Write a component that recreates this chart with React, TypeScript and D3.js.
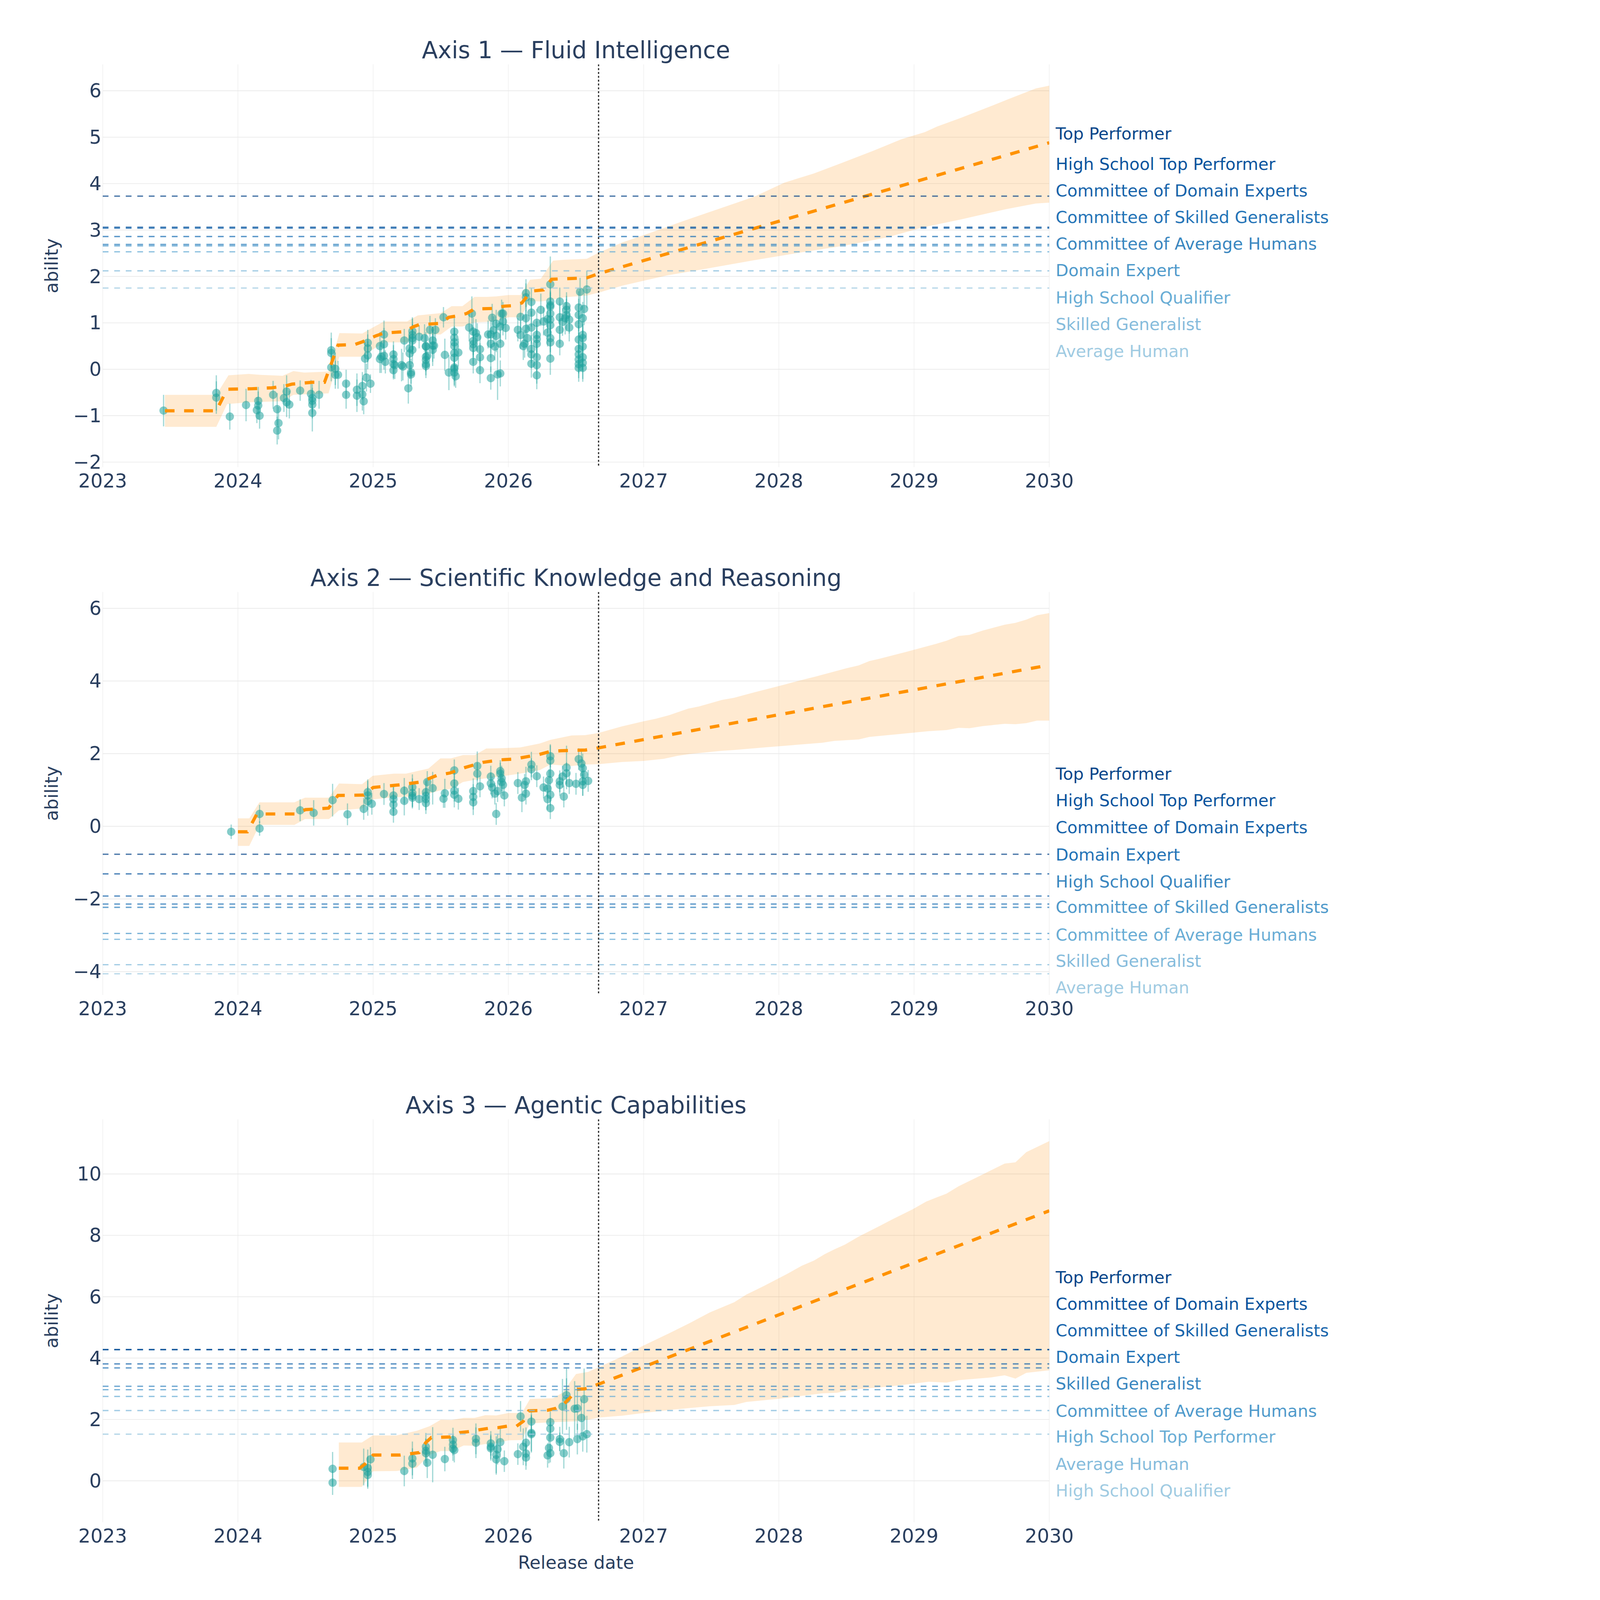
import React, { useEffect, useRef } from "react";
import * as d3 from "d3";

// ---- data ----
const panelTitles = [
    "Axis 1 — Fluid Intelligence",
    "Axis 2 — Scientific Knowledge and Reasoning",
    "Axis 3 — Agentic Capabilities",
];
const yDomains: [number, number][] = [[-2.11, 6.57], [-4.64, 6.45], [-1.35, 11.78]];
const yTicks = [
    [-2, -1, 0, 1, 2, 3, 4, 5, 6],
    [-4, -2, 0, 2, 4, 6],
    [0, 2, 4, 6, 8, 10],
];
const xTicks = [2023, 2024, 2025, 2026, 2027, 2028, 2029, 2030];
const cutoffYear = 2026.667;

const levelColors = ["#08468a", "#0a549e", "#1764ab", "#2474b7", "#3a87c0", "#4f9acb", "#69add5", "#86bcdc", "#a0cbe2"];

// horizontal human baselines (sorted high -> low) and their right-hand labels
const axis1Levels = [3.73, 3.06, 3.04, 2.86, 2.69, 2.66, 2.53, 2.12, 1.75];
const axis1Labels = ["Top Performer", "High School Top Performer", "Committee of Domain Experts", "Committee of Skilled Generalists", "Committee of Average Humans", "Domain Expert", "High School Qualifier", "Skilled Generalist", "Average Human"];
const axis1LabelPos = [5.08, 4.42, 3.85, 3.28, 2.70, 2.13, 1.54, 0.97, 0.39];

const axis2Levels = [-0.77, -1.31, -1.92, -2.14, -2.23, -2.95, -3.11, -3.81, -4.06];
const axis2Labels = ["Top Performer", "High School Top Performer", "Committee of Domain Experts", "Domain Expert", "High School Qualifier", "Committee of Skilled Generalists", "Committee of Average Humans", "Skilled Generalist", "Average Human"];
const axis2LabelPos = [1.44, 0.71, -0.03, -0.78, -1.52, -2.22, -2.98, -3.71, -4.44];

const axis3Levels = [4.28, 4.27, 3.81, 3.68, 3.08, 2.97, 2.75, 2.29, 1.52];
const axis3Labels = ["Top Performer", "Committee of Domain Experts", "Committee of Skilled Generalists", "Domain Expert", "Skilled Generalist", "Committee of Average Humans", "High School Top Performer", "Average Human", "High School Qualifier"];
const axis3LabelPos = [6.63, 5.76, 4.90, 4.04, 3.17, 2.28, 1.44, 0.55, -0.32];

// frontier median (history + projection)
const axis1Median = [[2023.46, -0.895], [2023.84, -0.895], [2023.92, -0.43], [2024.10, -0.42], [2024.25, -0.40], [2024.35, -0.36], [2024.40, -0.32], [2024.55, -0.28], [2024.64, -0.28], [2024.74, 0.52], [2024.86, 0.53], [2024.92, 0.59], [2025.02, 0.72], [2025.08, 0.78], [2025.23, 0.81], [2025.30, 0.92], [2025.34, 0.96], [2025.50, 0.99], [2025.56, 1.12], [2025.62, 1.15], [2025.69, 1.20], [2025.75, 1.30], [2025.89, 1.31], [2025.97, 1.36], [2026.03, 1.37], [2026.10, 1.43], [2026.14, 1.58], [2026.19, 1.69], [2026.26, 1.71], [2026.32, 1.94], [2026.51, 1.96], [2026.58, 1.97], [2026.667, 2.06], [2030, 4.88]];
const axis1Upper = [[2023.46, -0.55], [2023.84, -0.55], [2023.93, -0.13], [2024.08, -0.10], [2024.16, -0.12], [2024.33, -0.14], [2024.41, -0.04], [2024.49, -0.07], [2024.67, -0.05], [2024.75, 0.78], [2024.92, 0.77], [2025.01, 0.92], [2025.08, 1.03], [2025.25, 1.03], [2025.33, 1.16], [2025.50, 1.21], [2025.58, 1.36], [2025.66, 1.36], [2025.75, 1.56], [2025.84, 1.56], [2025.91, 1.57], [2026.0, 1.60], [2026.09, 1.60], [2026.16, 1.93], [2026.24, 1.95], [2026.33, 2.34], [2026.41, 2.36], [2026.58, 2.38], [2026.667, 2.51], [2026.84, 2.73], [2027.06, 2.95], [2027.27, 3.17], [2027.49, 3.39], [2027.60, 3.50], [2027.82, 3.72], [2028.04, 4.02], [2028.26, 4.22], [2028.48, 4.46], [2028.70, 4.71], [2028.91, 4.96], [2029.08, 5.11], [2029.17, 5.23], [2029.35, 5.42], [2029.57, 5.67], [2029.68, 5.80], [2029.90, 6.05], [2030, 6.11]];
const axis1Lower = [[2023.46, -1.24], [2023.84, -1.24], [2023.92, -0.75], [2024.08, -0.71], [2024.33, -0.69], [2024.41, -0.55], [2024.67, -0.52], [2024.75, 0.27], [2024.92, 0.27], [2025.01, 0.45], [2025.08, 0.58], [2025.25, 0.58], [2025.33, 0.75], [2025.50, 0.75], [2025.58, 0.92], [2025.66, 0.92], [2025.75, 1.01], [2025.84, 1.02], [2025.91, 1.04], [2026.0, 1.12], [2026.09, 1.12], [2026.16, 1.47], [2026.24, 1.46], [2026.33, 1.50], [2026.41, 1.55], [2026.58, 1.59], [2026.667, 1.65], [2026.84, 1.80], [2027.17, 2.02], [2027.49, 2.18], [2027.82, 2.35], [2028.15, 2.51], [2028.48, 2.66], [2028.80, 2.84], [2029.07, 3.06], [2029.35, 3.23], [2029.68, 3.45], [2029.90, 3.57], [2030, 3.59]];

const axis2Median = [[2024.0, -0.15], [2024.07, -0.15], [2024.14, 0.34], [2024.42, 0.34], [2024.50, 0.46], [2024.59, 0.48], [2024.67, 0.50], [2024.74, 0.85], [2024.93, 0.86], [2025.0, 1.07], [2025.19, 1.14], [2025.35, 1.22], [2025.47, 1.40], [2025.57, 1.47], [2025.68, 1.62], [2025.81, 1.76], [2025.94, 1.83], [2026.04, 1.85], [2026.23, 1.98], [2026.31, 2.06], [2026.39, 2.08], [2026.57, 2.10], [2026.667, 2.16], [2030, 4.44]];
const axis2Upper = [[2024.0, 0.22], [2024.084, 0.22], [2024.159, 0.66], [2024.418, 0.66], [2024.496, 0.79], [2024.673, 0.79], [2024.747, 1.18], [2024.918, 1.16], [2024.997, 1.39], [2025.154, 1.45], [2025.242, 1.45], [2025.409, 1.59], [2025.497, 1.87], [2025.575, 1.87], [2025.664, 1.96], [2025.752, 1.96], [2025.836, 2.14], [2025.938, 2.15], [2026.086, 2.17], [2026.233, 2.28], [2026.311, 2.38], [2026.468, 2.50], [2026.566, 2.51], [2026.668, 2.57], [2026.84, 2.75], [2027.0, 2.89], [2027.09, 2.96], [2027.19, 3.06], [2027.33, 3.24], [2027.41, 3.30], [2027.58, 3.48], [2027.67, 3.54], [2027.82, 3.69], [2028.04, 3.90], [2028.15, 4.01], [2028.28, 4.13], [2028.50, 4.35], [2028.59, 4.43], [2028.67, 4.55], [2028.74, 4.61], [2028.94, 4.80], [2029.16, 5.02], [2029.24, 5.11], [2029.33, 5.24], [2029.41, 5.27], [2029.51, 5.39], [2029.67, 5.55], [2029.75, 5.60], [2029.83, 5.69], [2029.91, 5.81], [2030, 5.87]];
const axis2Lower = [[2024.0, -0.54], [2024.084, -0.54], [2024.159, 0.04], [2024.418, 0.04], [2024.496, 0.20], [2024.673, 0.20], [2024.747, 0.44], [2024.918, 0.49], [2024.997, 0.74], [2025.154, 0.80], [2025.242, 0.81], [2025.409, 0.90], [2025.497, 0.99], [2025.575, 1.03], [2025.664, 1.22], [2025.752, 1.28], [2025.836, 1.32], [2025.938, 1.37], [2026.086, 1.45], [2026.233, 1.55], [2026.311, 1.70], [2026.468, 1.66], [2026.566, 1.70], [2026.668, 1.71], [2026.84, 1.77], [2027.0, 1.80], [2027.15, 1.86], [2027.25, 1.94], [2027.34, 1.99], [2027.58, 2.08], [2027.67, 2.10], [2027.89, 2.17], [2028.32, 2.30], [2028.41, 2.35], [2028.59, 2.39], [2028.67, 2.46], [2029.11, 2.62], [2029.24, 2.65], [2029.33, 2.71], [2029.41, 2.70], [2029.51, 2.76], [2029.67, 2.82], [2029.75, 2.81], [2029.83, 2.84], [2029.91, 2.91], [2030, 2.91]];

const axis3Median = [[2024.746, 0.41], [2024.90, 0.41], [2024.94, 0.55], [2025.0, 0.84], [2025.20, 0.84], [2025.34, 0.92], [2025.39, 1.25], [2025.43, 1.41], [2025.57, 1.43], [2025.64, 1.57], [2025.70, 1.60], [2025.78, 1.66], [2025.85, 1.71], [2025.92, 1.73], [2025.99, 1.78], [2026.06, 1.78], [2026.11, 1.94], [2026.15, 2.28], [2026.29, 2.30], [2026.35, 2.36], [2026.41, 2.50], [2026.46, 2.73], [2026.50, 2.98], [2026.57, 3.00], [2026.667, 3.15], [2030, 8.80]];
const axis3Upper = [[2024.746, 1.25], [2024.916, 1.25], [2024.997, 1.48], [2025.174, 1.48], [2025.323, 1.63], [2025.418, 1.78], [2025.50, 1.99], [2025.58, 1.98], [2025.67, 2.05], [2025.75, 2.05], [2025.83, 2.14], [2025.91, 2.13], [2026.0, 2.21], [2026.10, 2.21], [2026.16, 2.67], [2026.33, 2.69], [2026.40, 2.87], [2026.50, 3.48], [2026.59, 3.55], [2026.667, 3.70], [2026.84, 4.05], [2027.0, 4.41], [2027.19, 4.81], [2027.34, 5.14], [2027.49, 5.49], [2027.67, 5.82], [2027.76, 6.07], [2027.89, 6.35], [2028.06, 6.74], [2028.17, 7.01], [2028.26, 7.18], [2028.34, 7.39], [2028.41, 7.54], [2028.49, 7.70], [2028.59, 7.96], [2028.73, 8.27], [2028.83, 8.50], [2028.99, 8.85], [2029.09, 9.10], [2029.17, 9.24], [2029.24, 9.36], [2029.33, 9.60], [2029.46, 9.88], [2029.67, 10.34], [2029.75, 10.38], [2029.83, 10.71], [2030, 11.07]];
const axis3Lower = [[2024.746, -0.20], [2024.916, -0.20], [2024.997, 0.31], [2025.174, 0.32], [2025.323, 0.43], [2025.418, 0.85], [2025.50, 0.97], [2025.58, 0.97], [2025.67, 1.15], [2025.75, 1.14], [2025.83, 1.20], [2025.91, 1.22], [2026.0, 1.32], [2026.10, 1.33], [2026.16, 1.87], [2026.33, 1.91], [2026.40, 1.92], [2026.50, 1.94], [2026.59, 1.99], [2026.667, 2.06], [2026.84, 2.12], [2027.0, 2.21], [2027.21, 2.32], [2027.49, 2.43], [2027.67, 2.47], [2027.76, 2.57], [2027.99, 2.67], [2028.32, 2.85], [2028.43, 2.87], [2028.54, 2.97], [2028.81, 3.07], [2029.0, 3.17], [2029.11, 3.23], [2029.24, 3.20], [2029.33, 3.28], [2029.57, 3.37], [2029.67, 3.44], [2029.75, 3.33], [2029.83, 3.52], [2030, 3.60]];

// model estimates: [release year, ability, error]
const axis1Models = [
    [2023.45, -0.89, 0.34], [2023.84, -0.51, 0.38], [2023.84, -0.61, 0.35], [2023.94, -1.02, 0.28], [2024.06, -0.77, 0.35],
    [2024.15, -0.68, 0.3], [2024.15, -0.78, 0.3], [2024.14, -0.88, 0.28], [2024.16, -1.00, 0.28], [2024.26, -0.55, 0.3],
    [2024.29, -0.86, 0.35], [2024.30, -1.16, 0.35], [2024.29, -1.32, 0.3], [2024.36, -0.48, 0.35], [2024.34, -0.62, 0.3],
    [2024.36, -0.71, 0.32], [2024.38, -0.76, 0.3], [2024.46, -0.46, 0.22], [2024.54, -0.53, 0.3], [2024.55, -0.62, 0.3],
    [2024.55, -0.68, 0.28], [2024.55, -0.76, 0.3], [2024.55, -0.94, 0.4], [2024.60, -0.55, 0.3], [2024.69, 0.41, 0.38],
    [2024.69, 0.35, 0.32], [2024.69, 0.04, 0.3], [2024.72, 0.01, 0.35], [2024.72, -0.12, 0.3], [2024.74, -0.12, 0.3],
    [2024.80, -0.31, 0.3], [2024.80, -0.55, 0.3],
    [2024.88, -0.44, 0.35], [2024.88, -0.57, 0.35], [2024.92, -0.36, 0.3], [2024.92, -0.54, 0.35], [2024.93, -0.69, 0.28],
    [2024.95, -0.18, 0.3], [2024.98, -0.31, 0.2], [2024.94, 0.23, 0.35], [2024.96, 0.30, 0.3], [2024.96, 0.45, 0.3],
    [2024.96, 0.57, 0.28], [2025.05, 0.22, 0.3], [2025.06, 0.27, 0.35], [2025.08, 0.29, 0.3], [2025.09, 0.16, 0.25],
    [2025.08, 0.54, 0.35], [2025.08, 0.75, 0.3], [2025.05, 0.50, 0.3], [2025.15, 0.32, 0.28], [2025.15, 0.22, 0.3],
    [2025.15, 0.11, 0.3], [2025.15, -0.02, 0.2], [2025.16, 0.09, 0.3], [2025.21, 0.09, 0.35], [2025.22, 0.06, 0.3],
    [2025.23, 0.62, 0.25], [2025.26, -0.41, 0.33], [2025.27, 0.09, 0.3], [2025.28, -0.07, 0.3], [2025.28, -0.11, 0.2],
    [2025.27, 0.34, 0.4], [2025.27, 0.45, 0.3], [2025.29, 0.42, 0.3], [2025.29, 0.67, 0.3], [2025.29, 0.74, 0.35],
    [2025.29, 0.82, 0.3], [2025.29, 0.62, 0.25], [2025.34, 0.70, 0.25], [2025.38, 0.67, 0.3], [2025.39, 0.50, 0.3],
    [2025.39, 0.49, 0.25], [2025.39, 0.27, 0.3], [2025.39, 0.20, 0.25], [2025.39, 0.11, 0.3], [2025.39, 0.07, 0.2],
    [2025.40, 0.29, 0.25], [2025.42, 0.85, 0.3], [2025.46, 0.85, 0.25], [2025.44, 0.62, 0.3], [2025.44, 0.51, 0.35],
    [2025.45, 0.51, 0.28], [2025.44, 0.42, 0.35], [2025.52, 1.12, 0.22], [2025.53, 0.31, 0.35], [2025.56, -0.07, 0.38],
    [2025.60, 0.81, 0.3], [2025.60, 0.68, 0.25], [2025.60, 0.58, 0.3], [2025.60, 0.50, 0.35], [2025.60, 0.35, 0.35],
    [2025.60, 0.25, 0.3], [2025.60, 0.04, 0.3], [2025.60, 0.01, 0.35], [2025.60, -0.07, 0.3], [2025.61, -0.15, 0.25],
    [2025.63, 0.36, 0.3], [2025.71, 0.90, 0.3], [2025.73, 1.20, 0.37], [2025.74, 0.81, 0.3], [2025.74, 0.61, 0.3],
    [2025.74, 0.54, 0.28], [2025.74, 0.46, 0.35], [2025.74, 0.16, 0.25], [2025.76, 0.78, 0.3], [2025.77, 0.69, 0.3],
    [2025.79, 0.43, 0.3], [2025.79, 0.26, 0.3], [2025.79, -0.02, 0.28], [2025.85, 0.75, 0.3], [2025.87, 0.75, 0.3],
    [2025.87, 0.55, 0.3], [2025.87, 0.24, 0.3], [2025.87, -0.19, 0.25], [2025.88, 1.11, 0.3], [2025.89, 0.84, 0.3],
    [2025.90, 0.49, 0.3], [2025.92, -0.11, 0.55], [2025.91, 0.72, 0.35], [2025.91, 0.98, 0.3], [2025.94, 0.55, 0.3],
    [2025.94, 0.92, 0.35], [2025.94, -0.09, 0.28], [2025.95, 1.20, 0.3], [2025.96, 1.03, 0.3], [2025.96, 1.20, 0.25],
    [2025.98, 0.89, 0.25], [2026.07, 0.85, 0.25], [2026.09, 1.13, 0.3], [2026.09, 0.74, 0.3], [2026.11, 0.50, 0.3],
    [2026.12, 0.55, 0.3], [2026.13, 1.64, 0.3], [2026.13, 1.55, 0.3], [2026.13, 1.10, 0.35], [2026.13, 0.87, 0.4],
    [2026.14, 0.67, 0.3], [2026.17, 1.45, 0.3], [2026.17, 1.22, 0.3], [2026.17, 0.90, 0.35], [2026.17, 0.44, 0.3],
    [2026.17, 0.32, 0.3], [2026.17, 0.12, 0.3], [2026.21, 1.00, 0.3], [2026.21, 0.74, 0.3], [2026.21, 0.65, 0.3],
    [2026.21, 0.55, 0.3], [2026.21, 0.26, 0.3], [2026.21, 0.09, 0.4], [2026.21, -0.13, 0.3], [2026.24, 1.28, 0.35],
    [2026.26, 1.03, 0.3], [2026.29, 1.08, 0.3], [2026.29, 0.79, 0.3], [2026.31, 1.83, 0.6], [2026.31, 1.46, 0.3],
    [2026.31, 1.38, 0.3], [2026.31, 1.35, 0.3], [2026.31, 1.20, 0.35], [2026.31, 1.07, 0.3], [2026.31, 0.95, 0.3],
    [2026.31, 0.67, 0.3], [2026.31, 0.58, 0.3], [2026.31, 0.23, 0.35], [2026.38, 1.46, 0.3], [2026.38, 1.12, 0.3],
    [2026.38, 0.85, 0.3], [2026.38, 0.55, 0.25], [2026.40, 1.02, 0.3], [2026.42, 1.10, 0.35], [2026.43, 1.36, 0.3],
    [2026.43, 1.28, 0.3], [2026.43, 1.17, 0.35], [2026.45, 0.90, 0.3], [2026.45, 1.07, 0.3], [2026.53, 1.67, 0.3],
    [2026.52, 1.33, 0.35], [2026.52, 1.17, 0.35], [2026.52, 0.97, 0.3], [2026.52, 0.64, 0.3], [2026.52, 0.44, 0.35],
    [2026.52, 0.32, 0.3], [2026.52, 0.21, 0.3], [2026.52, 0.11, 0.3], [2026.52, 0.03, 0.3], [2026.55, 1.10, 0.35],
    [2026.55, 0.74, 0.3], [2026.55, 0.67, 0.3], [2026.55, 0.49, 0.35], [2026.55, 0.26, 0.3], [2026.55, 0.14, 0.35],
    [2026.55, 0.03, 0.3], [2026.56, 1.30, 0.35], [2026.58, 1.72, 0.4],
];
const axis2Models = [
    [2023.95, -0.15, 0.2], [2024.16, 0.34, 0.25], [2024.16, -0.06, 0.2], [2024.46, 0.44, 0.3], [2024.56, 0.37, 0.35],
    [2024.70, 0.72, 0.45], [2024.81, 0.33, 0.3], [2024.93, 0.48, 0.3], [2024.96, 0.94, 0.35], [2024.96, 0.85, 0.4],
    [2024.96, 0.69, 0.4], [2024.99, 0.62, 0.3], [2025.08, 0.89, 0.3], [2025.15, 0.85, 0.3], [2025.15, 0.75, 0.35],
    [2025.15, 0.60, 0.3], [2025.15, 0.40, 0.3], [2025.23, 0.98, 0.35], [2025.23, 0.70, 0.4], [2025.29, 1.08, 0.35],
    [2025.29, 0.92, 0.4], [2025.29, 0.84, 0.3], [2025.29, 0.79, 0.3], [2025.34, 0.75, 0.3], [2025.39, 0.94, 0.35],
    [2025.39, 0.84, 0.4], [2025.39, 0.75, 0.3], [2025.39, 0.64, 0.3], [2025.40, 1.22, 0.3], [2025.44, 1.05, 0.45],
    [2025.52, 0.76, 0.25], [2025.53, 0.91, 0.4], [2025.60, 1.54, 0.3], [2025.60, 1.18, 0.3], [2025.60, 0.98, 0.3],
    [2025.60, 0.87, 0.35], [2025.63, 0.76, 0.3], [2025.74, 0.97, 0.35], [2025.74, 0.81, 0.35], [2025.74, 0.66, 0.35],
    [2025.77, 1.66, 0.4], [2025.77, 1.45, 0.3], [2025.79, 1.10, 0.3], [2025.87, 1.37, 0.3], [2025.87, 1.18, 0.3],
    [2025.88, 1.07, 0.3], [2025.90, 0.90, 0.3], [2025.92, 0.97, 0.3], [2025.91, 0.34, 0.3], [2025.94, 1.52, 0.3],
    [2025.94, 1.45, 0.3], [2025.95, 1.32, 0.35], [2025.95, 1.22, 0.3], [2025.96, 1.14, 0.3], [2025.97, 0.85, 0.3],
    [2026.07, 1.19, 0.3], [2026.10, 0.79, 0.4], [2026.12, 1.14, 0.3], [2026.13, 0.90, 0.3], [2026.13, 1.24, 0.4],
    [2026.17, 1.70, 0.35], [2026.17, 1.57, 0.3], [2026.21, 1.38, 0.3], [2026.26, 1.07, 0.3], [2026.29, 0.75, 0.3],
    [2026.29, 1.04, 0.3], [2026.31, 1.93, 0.3], [2026.31, 1.81, 0.45], [2026.31, 1.45, 0.3], [2026.30, 1.27, 0.3],
    [2026.31, 0.87, 0.3], [2026.31, 0.50, 0.3], [2026.38, 1.24, 0.3], [2026.38, 1.14, 0.3], [2026.41, 0.82, 0.3],
    [2026.40, 1.37, 0.3], [2026.43, 1.62, 0.6], [2026.43, 1.46, 0.3], [2026.45, 1.19, 0.3], [2026.50, 1.17, 0.3],
    [2026.52, 1.85, 0.3], [2026.54, 1.73, 0.35], [2026.55, 1.60, 0.4], [2026.56, 1.42, 0.3], [2026.55, 1.24, 0.4],
    [2026.55, 1.14, 0.3], [2026.59, 1.25, 0.3],
];
const axis3Models = [
    [2024.70, 0.39, 0.55], [2024.70, -0.06, 0.4], [2024.93, 0.45, 0.6], [2024.96, 0.42, 0.6], [2024.96, 0.29, 0.5],
    [2024.96, 0.19, 0.45], [2024.98, 0.70, 0.4], [2025.23, 0.32, 0.5], [2025.29, 0.73, 0.55], [2025.29, 0.56, 0.5],
    [2025.39, 1.11, 0.45], [2025.39, 0.98, 0.4], [2025.39, 0.90, 0.45], [2025.40, 0.59, 0.5], [2025.44, 0.85, 0.9],
    [2025.53, 0.71, 0.4], [2025.59, 1.33, 0.4], [2025.59, 1.18, 0.35], [2025.59, 1.05, 0.4], [2025.60, 1.00, 0.4],
    [2025.76, 1.37, 0.5], [2025.76, 1.24, 0.5], [2025.87, 1.22, 0.4], [2025.87, 1.11, 0.4], [2025.87, 1.06, 0.4],
    [2025.91, 0.85, 0.6], [2025.91, 0.70, 0.5], [2025.92, 1.03, 0.5], [2025.94, 1.26, 0.5], [2025.97, 0.64, 0.35],
    [2026.07, 0.87, 0.35], [2026.09, 2.10, 0.5], [2026.11, 1.11, 0.6], [2026.13, 1.24, 0.5], [2026.13, 0.89, 0.4],
    [2026.13, 0.76, 0.4], [2026.17, 1.93, 0.4], [2026.17, 1.56, 0.6], [2026.17, 1.52, 0.6], [2026.31, 1.91, 0.35],
    [2026.31, 1.70, 0.35], [2026.31, 1.41, 0.5], [2026.30, 1.07, 0.5], [2026.29, 0.83, 0.4], [2026.31, 0.90, 0.3],
    [2026.38, 1.36, 0.4], [2026.38, 1.27, 0.3], [2026.40, 2.42, 0.9], [2026.41, 0.90, 0.5], [2026.43, 2.79, 0.55],
    [2026.43, 2.66, 1.0], [2026.45, 1.26, 0.5], [2026.49, 2.35, 0.9], [2026.51, 2.36, 0.7], [2026.51, 1.36, 0.5],
    [2026.54, 2.05, 0.6], [2026.55, 1.45, 0.5], [2026.56, 2.66, 1.0], [2026.58, 1.52, 0.6],
];

// ---- layout (pixels, in a 4400x5000 viewBox) ----
const WIDTH = 4400;
const HEIGHT = 5000;
const PLOT_LEFT = 321;
const PLOT_RIGHT = 3279;
const PANEL_TOPS = [201, 1850, 3498];
const PANEL_H = 1259;
const FONT = "'DejaVu Sans', Verdana, sans-serif";
const INK = "#2a3f5f";
const TEAL = "#1fa39d";
const ORANGE = "#ff9200";

export default function App() {
    const svgRef = useRef<SVGSVGElement | null>(null);

    // fit the drawing to whatever viewport the browser actually gives us
    const vw = typeof window !== "undefined" ? window.innerWidth : WIDTH;
    const vh = typeof window !== "undefined" ? window.innerHeight : HEIGHT;

    useEffect(() => {
        document.body.style.margin = "0";
        document.body.style.overflow = "hidden";
        if (!svgRef.current) return;
        const svg = d3.select(svgRef.current);
        svg.selectAll("*").remove();

        svg.append("rect").attr("width", WIDTH).attr("height", HEIGHT).attr("fill", "#fff");

        const panels = [
            { models: axis1Models, median: axis1Median, upper: axis1Upper, lower: axis1Lower, levels: axis1Levels, labels: axis1Labels, labelPos: axis1LabelPos },
            { models: axis2Models, median: axis2Median, upper: axis2Upper, lower: axis2Lower, levels: axis2Levels, labels: axis2Labels, labelPos: axis2LabelPos },
            { models: axis3Models, median: axis3Median, upper: axis3Upper, lower: axis3Lower, levels: axis3Levels, labels: axis3Labels, labelPos: axis3LabelPos },
        ];

        const x = d3.scaleLinear().domain([2023, 2030]).range([PLOT_LEFT, PLOT_RIGHT]);

        panels.forEach((p, i) => {
            const top = PANEL_TOPS[i];
            const bottom = top + PANEL_H;
            const y = d3.scaleLinear().domain(yDomains[i]).range([bottom, top]);
            const g = svg.append("g");

            // grid
            g.selectAll(".xgrid").data(xTicks).join("line")
                .attr("x1", d => x(d)).attr("x2", d => x(d))
                .attr("y1", top).attr("y2", bottom)
                .attr("stroke", "#f0f0f0").attr("stroke-width", 2);
            g.selectAll(".ygrid").data(yTicks[i]).join("line")
                .attr("x1", PLOT_LEFT).attr("x2", PLOT_RIGHT)
                .attr("y1", d => y(d)).attr("y2", d => y(d))
                .attr("stroke", "#e8e8e8").attr("stroke-width", 2);

            // tick labels
            g.selectAll(".ytick").data(yTicks[i]).join("text")
                .attr("x", 317).attr("y", d => y(d))
                .attr("text-anchor", "end").attr("dominant-baseline", "central")
                .attr("font-family", FONT).attr("font-size", 60).attr("fill", INK)
                .text(d => d3.format("d")(d));
            g.selectAll(".xtick").data(xTicks).join("text")
                .attr("x", d => x(d)).attr("y", bottom + 64)
                .attr("text-anchor", "middle")
                .attr("font-family", FONT).attr("font-size", 60).attr("fill", INK)
                .text(d => String(d));

            // title
            g.append("text")
                .attr("x", (PLOT_LEFT + PLOT_RIGHT) / 2).attr("y", top - 19)
                .attr("text-anchor", "middle")
                .attr("font-family", FONT).attr("font-size", 73).attr("fill", INK)
                .text(panelTitles[i]);

            // y title
            g.append("text")
                .attr("transform", `translate(161,${(top + bottom) / 2}) rotate(-90)`)
                .attr("text-anchor", "middle").attr("dominant-baseline", "central")
                .attr("font-family", FONT).attr("font-size", 56).attr("fill", INK)
                .text("ability");

            const plot = g.append("g");
            plot.append("clipPath").attr("id", `clip${i}`)
                .append("rect").attr("x", PLOT_LEFT).attr("y", top)
                .attr("width", PLOT_RIGHT - PLOT_LEFT).attr("height", PANEL_H);
            const inner = plot.append("g").attr("clip-path", `url(#clip${i})`);

            // uncertainty band
            const ring = [...p.upper, ...p.lower.slice().reverse()];
            const bandLine = d3.line<number[]>().x(d => x(d[0])).y(d => y(d[1]));
            inner.append("path")
                .attr("d", bandLine(ring) + "Z")
                .attr("fill", "#ff8c00").attr("fill-opacity", 0.18);

            // error bars + points
            inner.selectAll(".err").data(p.models).join("line")
                .attr("x1", d => x(d[0])).attr("x2", d => x(d[0]))
                .attr("y1", d => y(d[1] - d[2])).attr("y2", d => y(d[1] + d[2]))
                .attr("stroke", TEAL).attr("stroke-opacity", 0.4).attr("stroke-width", 4);
            inner.selectAll(".pt").data(p.models).join("circle")
                .attr("cx", d => x(d[0])).attr("cy", d => y(d[1])).attr("r", 13)
                .attr("fill", TEAL).attr("fill-opacity", 0.55);

            // frontier median
            inner.append("path")
                .attr("d", d3.line<number[]>().x(d => x(d[0])).y(d => y(d[1]))(p.median))
                .attr("fill", "none").attr("stroke", ORANGE).attr("stroke-width", 10)
                .attr("stroke-dasharray", "30,30");

            // human reference levels
            inner.selectAll(".lvl").data(p.levels).join("line")
                .attr("x1", PLOT_LEFT).attr("x2", PLOT_RIGHT)
                .attr("y1", d => y(d)).attr("y2", d => y(d))
                .attr("stroke", (_, k) => levelColors[k]).attr("stroke-opacity", 0.75)
                .attr("stroke-width", 4).attr("stroke-dasharray", "18,18");

            // cutoff
            inner.append("line")
                .attr("x1", x(cutoffYear)).attr("x2", x(cutoffYear))
                .attr("y1", top).attr("y2", bottom)
                .attr("stroke", "#333").attr("stroke-width", 4).attr("stroke-dasharray", "6,6");

            // right labels
            g.selectAll(".lbl").data(p.labels).join("text")
                .attr("x", 3299).attr("y", (_, k) => y(p.labelPos[k]))
                .attr("dominant-baseline", "central")
                .attr("font-family", FONT).attr("font-size", 52)
                .attr("fill", (_, k) => levelColors[k])
                .text(d => d);
        });

        svg.append("text")
            .attr("x", (PLOT_LEFT + PLOT_RIGHT) / 2).attr("y", 4902)
            .attr("text-anchor", "middle")
            .attr("font-family", FONT).attr("font-size", 56).attr("fill", INK)
            .text("Release date");
    }, []);

    return (
        <svg
            ref={svgRef}
            width={vw}
            height={vh}
            viewBox={`0 0 ${WIDTH} ${HEIGHT}`}
            preserveAspectRatio="xMinYMin meet"
            style={{ position: "absolute", left: 0, top: 0, display: "block" }}
        />
    );
}
